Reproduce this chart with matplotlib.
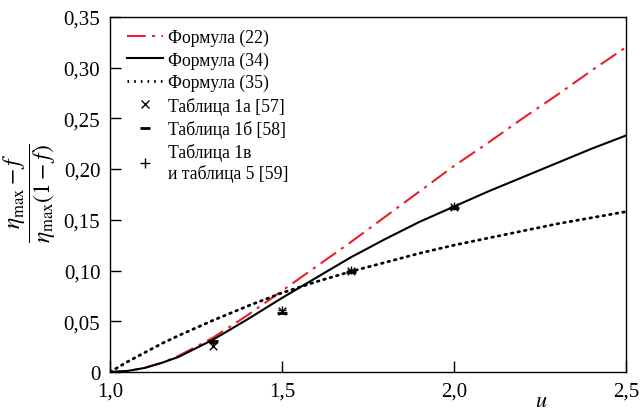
import numpy as np
import matplotlib
matplotlib.use("Agg")
import matplotlib.pyplot as plt
from matplotlib.lines import Line2D
from matplotlib.ticker import FuncFormatter

plt.rcParams["font.family"] = ["Liberation Serif", "DejaVu Serif"]
plt.rcParams["mathtext.fontset"] = "stix"

# -----------------------------
# Data
# -----------------------------
u = [1.0, 1.05, 1.1, 1.15, 1.2, 1.3, 1.4, 1.5, 1.6, 1.7, 1.8, 1.9, 2.0,
     2.1, 2.2, 2.3, 2.4, 2.5]
f22 = [0.0, 0.001, 0.004, 0.009, 0.016, 0.034, 0.056, 0.080, 0.104, 0.128, 0.153,
       0.178, 0.203, 0.226, 0.250, 0.273, 0.297, 0.320]
f34 = [0.0, 0.001, 0.004, 0.009, 0.015, 0.032, 0.052, 0.073, 0.093, 0.113, 0.131,
       0.148, 0.163, 0.178, 0.192, 0.206, 0.220, 0.233]
f35 = [0.0, 0.010, 0.019, 0.028, 0.036, 0.051, 0.065, 0.078, 0.089, 0.099, 0.108,
       0.117, 0.125, 0.132, 0.139, 0.146, 0.152, 0.158]

t1a_u = [1.3, 1.5, 1.7, 2.0]
t1a_y = [0.026, 0.060, 0.100, 0.163]
t1b_u = [1.3, 1.5, 1.7, 2.0]
t1b_y = [0.031, 0.058, 0.099, 0.162]
t1v_u = [1.3, 1.5, 1.7, 2.0]
t1v_y = [0.029, 0.061, 0.101, 0.164]

RED = "#e8202a"

fig = plt.figure(figsize=(6.4, 4.14), dpi=100)
ax = fig.add_axes([0.172, 0.099, 0.806, 0.858])

ax.plot(u, f22, color=RED, lw=1.5, dashes=(9, 3, 1.5, 3))
ax.plot(u, f34, color="black", lw=1.5)
ax.plot(u, f35, color="black", lw=2.0, linestyle=(0, (0.6, 1.8)), dash_capstyle="round")

ax.scatter(t1a_u, t1a_y, marker="x", s=30, color="black", lw=1.0, zorder=4)
ax.scatter(t1b_u, t1b_y, marker="_", s=45, color="black", lw=2.0, zorder=4)
ax.scatter(t1v_u, t1v_y, marker="+", s=40, color="black", lw=1.0, zorder=4)

ax.set_xlim(1.0, 2.5)
ax.set_ylim(0, 0.35)
ax.set_xticks([1.0, 1.5, 2.0, 2.5])
ax.set_yticks(np.arange(0, 0.351, 0.05))
ax.xaxis.set_major_formatter(FuncFormatter(lambda v, p: f"{v:.1f}".replace(".", ",")))
ax.yaxis.set_major_formatter(
    FuncFormatter(lambda v, p: "0" if abs(v) < 1e-9 else f"{v:.2f}".replace(".", ",")))
ax.tick_params(direction="in", length=8, width=1, labelsize=15, pad=7)
ax.tick_params(axis="x", pad=7)
for s in ax.spines.values():
    s.set_linewidth(1.0)

fig.text(0.845, 0.005, "$u$", fontsize=16, ha="center", va="bottom")
fig.text(0.048, 0.533, r"$\dfrac{\eta_{\max}-f}{\eta_{\max}(1-f)}$", fontsize=17,
         rotation=90, ha="center", va="center")

handles = [
    Line2D([], [], color=RED, lw=1.5, dashes=(9, 3, 1.5, 3)),
    Line2D([], [], color="black", lw=1.5),
    Line2D([], [], color="black", lw=2.0, linestyle=(0, (0.6, 1.8))),
    Line2D([], [], color="black", marker="x", ls="none", ms=6),
    Line2D([], [], color="black", marker="_", ls="none", ms=7, mew=2),
    Line2D([], [], color="black", marker="+", ls="none", ms=7),
]
labels = ["Формула (22)", "Формула (34)", "Формула (35)", "Таблица 1а [57]",
          "Таблица 1б [58]", "Таблица 1в\nи таблица 5 [59]"]
ax.legend(handles, labels, loc="upper left", frameon=False, fontsize=12.7,
          handlelength=2.0, handletextpad=0.3, labelspacing=0.3,
          borderaxespad=0.4, bbox_to_anchor=(0.006, 1.006))

fig.savefig("out.png", dpi=100)
